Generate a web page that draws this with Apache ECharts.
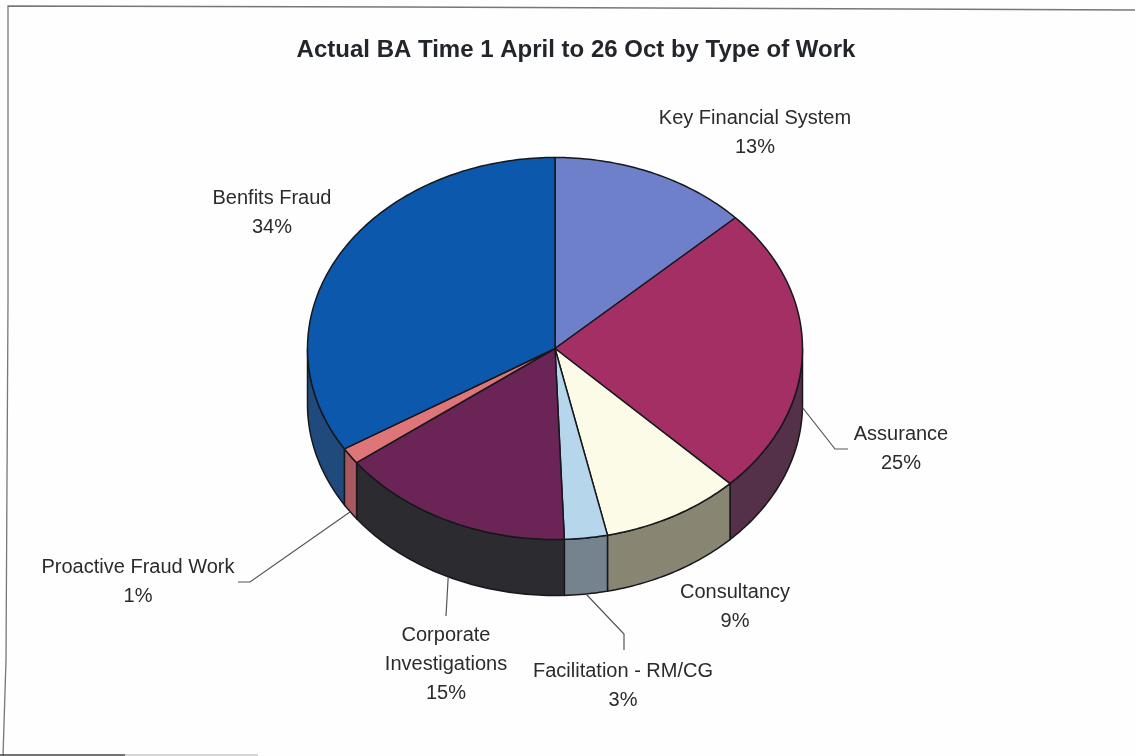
<!DOCTYPE html>
<html>
<head>
<meta charset="utf-8">
<title>Actual BA Time</title>
<style>html,body{margin:0;padding:0;background:#fff}#c{width:1135px;height:756px}</style>
<script src="https://cdn.jsdelivr.net/npm/echarts@6/dist/echarts.min.js"></script>
</head>
<body>
<div id="c"></div>
<script>
const chartTitle = 'Actual BA Time 1 April to 26 Oct by Type of Work';
const categories = ['Key Financial System', 'Assurance', 'Consultancy', 'Facilitation - RM/CG', 'Corporate\nInvestigations', 'Proactive Fraud Work', 'Benfits Fraud'];
const shares = [13, 24.5, 9.1, 2.8, 15.4, 1.4, 33.8];
const topColors = ['#6f80cb', '#a32f64', '#fbfbe8', '#b6d6ec', '#6a2556', '#de7679', '#0c58ac'];
const sideColors = ['#3a4266', '#553049', '#888672', '#75838e', '#2b2b30', '#a8595f', '#214a7c'];
// label centre and optional leader elbow points, one entry per slice
const labelCentres = [[755, 133], [901, 449], [735, 607], [623, 686], [446, 664], [138, 582], [272, 213]];
const leaderElbows = [null, [[835, 449], [848, 449]], null, [[624, 634], [624, 650]], [[446, 616]], [[250, 582], [238, 582]], null];

const cx = 555, cy = 348.5, rx = 247.5, ry = 191, depth = 56;
const total = shares.reduce((a, b) => a + b, 0);
const rad = d => d * Math.PI / 180;
const rim = (deg, dy) => [cx + rx * Math.sin(rad(deg)), cy - ry * Math.cos(rad(deg)) + (dy || 0)];
const arc = (a, b, dy) => {
  const pts = [];
  const n = Math.max(2, Math.ceil(Math.abs(b - a)));
  for (let i = 0; i <= n; i++) pts.push(rim(a + (b - a) * i / n, dy));
  return pts;
};
const stroke = '#17171c';

function renderSlice(params, api) {
  const i = params.dataIndex;
  const value = api.value(0);
  let before = 0;
  for (let k = 0; k < i; k++) before += shares[k];
  const a0 = before / total * 360, a1 = (before + value) / total * 360;
  const children = [];
  const s0 = Math.max(a0, 90), s1 = Math.min(a1, 270);
  if (s1 > s0) {
    children.push({
      type: 'polygon',
      shape: { points: arc(s0, s1, 0).concat(arc(s1, s0, depth)) },
      style: { fill: sideColors[i], stroke: stroke, lineWidth: 1.5 }
    });
  }
  children.push({
    type: 'polygon',
    shape: { points: [[cx, cy]].concat(arc(a0, a1, 0)) },
    style: { fill: topColors[i], stroke: stroke, lineWidth: 1.5, lineJoin: 'round' }
  });
  if (leaderElbows[i]) {
    children.push({
      type: 'polyline',
      shape: { points: [rim((a0 + a1) / 2, depth)].concat(leaderElbows[i]) },
      style: { fill: null, stroke: '#555', lineWidth: 1.2 }
    });
  }
  children.push({
    type: 'text',
    style: {
      x: labelCentres[i][0], y: labelCentres[i][1],
      text: categories[i] + '\n' + Math.round(value) + '%',
      align: 'center', verticalAlign: 'middle',
      font: '20px "Liberation Sans", Arial, sans-serif',
      lineHeight: 29, fill: '#2b2b2b'
    }
  });
  return { type: 'group', children: children };
}

const chart = echarts.init(document.getElementById('c'), null, { renderer: 'canvas' });
chart.setOption({
  animation: false,
  backgroundColor: '#fefefe',
  title: {
    text: chartTitle, left: 571, top: 33, textAlign: 'center',
    textStyle: { fontFamily: '"Liberation Sans", Arial, sans-serif', fontSize: 24, fontWeight: 'bold', color: '#22262b' }
  },
  graphic: [
    { type: 'polyline', silent: true, shape: { points: [[1135, 10], [900, 9], [400, 7], [8, 6], [8, 300], [6, 660], [3, 756]] }, style: { fill: null, stroke: '#777', lineWidth: 1.3 } },
    { type: 'line', silent: true, shape: { x1: 0, y1: 755, x2: 125, y2: 755 }, style: { stroke: '#444', lineWidth: 1.6 } },
    { type: 'line', silent: true, shape: { x1: 125, y1: 755, x2: 258, y2: 755 }, style: { stroke: '#aaa', lineWidth: 1.2 } }
  ],
  series: [{
    type: 'custom',
    coordinateSystem: 'none',
    silent: true,
    data: shares.map(v => [v]),
    renderItem: renderSlice
  }]
});
</script>
</body>
</html>
